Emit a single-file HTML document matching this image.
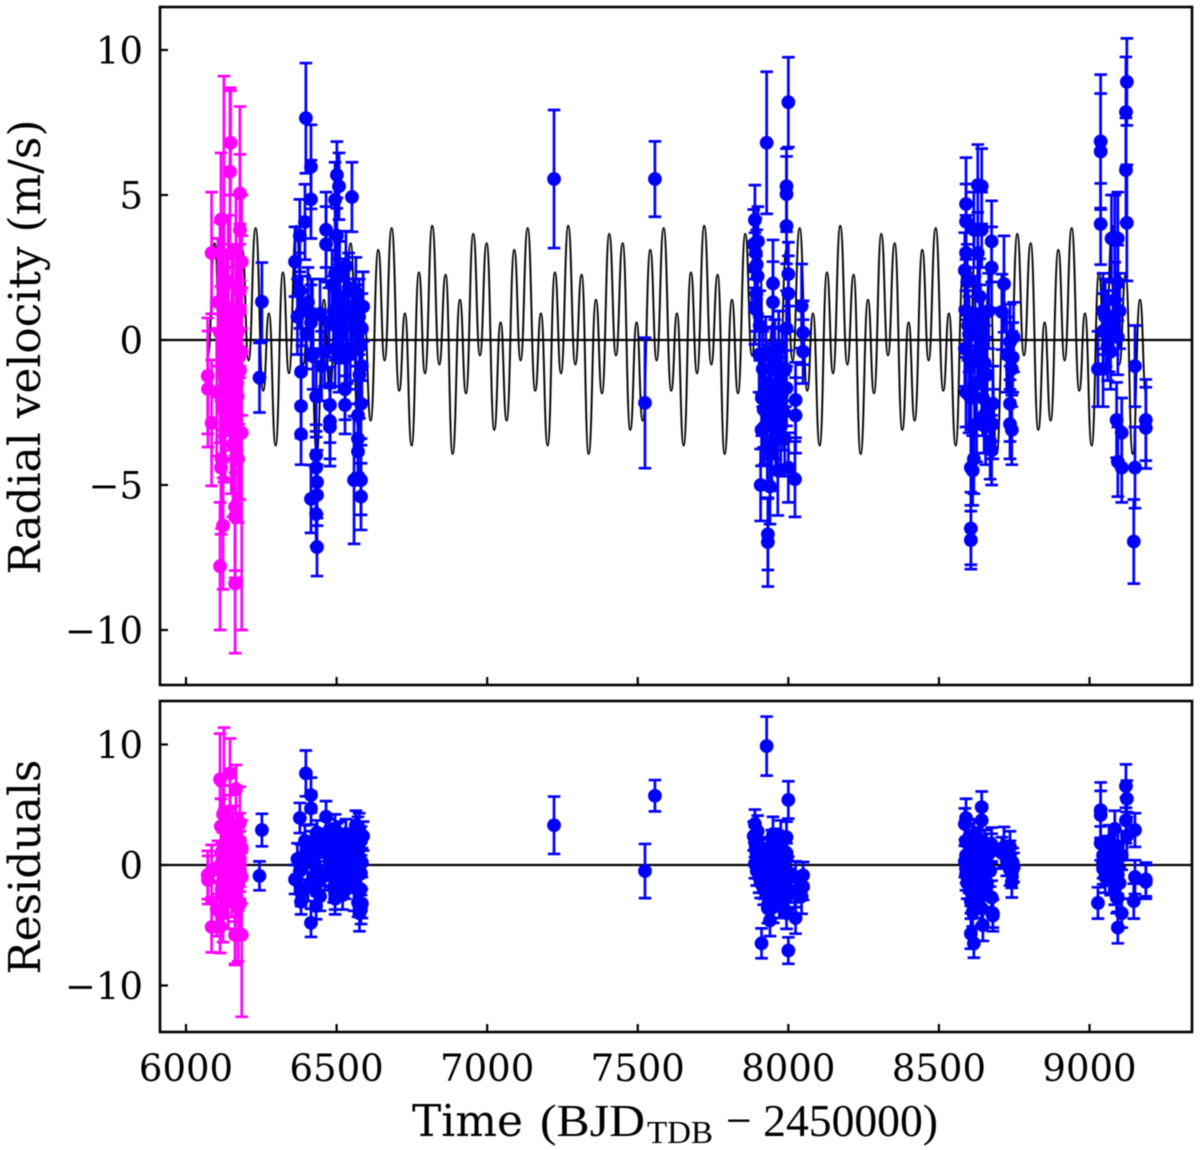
<!DOCTYPE html>
<html>
<head>
<meta charset="utf-8">
<title>Radial velocity and residuals</title>
<style>
html,body{margin:0;padding:0;background:#fff;width:1200px;height:1150px;overflow:hidden}
svg{display:block;filter:blur(0.5px)}
text{fill:#000}
.tick{font-family:"DejaVu Serif","Liberation Serif",serif;font-size:37px}
.label{font-family:"DejaVu Serif","Liberation Serif",serif;font-size:44px}
.math{font-family:"Liberation Serif","DejaVu Serif",serif;font-size:46px}
</style>
</head>
<body>
<svg id="chart" width="1200" height="1150" viewBox="0 0 1200 1150" xmlns="http://www.w3.org/2000/svg">
  <rect x="0" y="0" width="1200" height="1150" fill="#fff"/>
  <g id="top-marks"></g>
  <g id="bottom-marks"></g>
  <rect x="160" y="7" width="1032" height="678" fill="none" stroke="#000" stroke-width="2.6"/>
  <rect x="160" y="701" width="1032" height="331" fill="none" stroke="#000" stroke-width="2.6"/>
  <g id="axes-ticks"></g>
  <text class="label" transform="translate(40,347) rotate(-90)" text-anchor="middle" textLength="455" lengthAdjust="spacingAndGlyphs">Radial velocity (m/s)</text>
  <text class="label" transform="translate(40,867) rotate(-90)" text-anchor="middle" textLength="215" lengthAdjust="spacingAndGlyphs">Residuals</text>
  <g>
    <text class="label" x="412" y="1136" textLength="111" lengthAdjust="spacingAndGlyphs">Time</text>
    <text class="math" x="540" y="1136" textLength="105" lengthAdjust="spacingAndGlyphs">(BJD</text>
    <text class="math" x="647" y="1143" style="font-size:32px" textLength="66" lengthAdjust="spacingAndGlyphs">TDB</text>
    <text class="math" x="726" y="1136" textLength="212" lengthAdjust="spacingAndGlyphs">− 2450000)</text>
  </g>
</svg>
<script>
// Axis tick values
const xTicks = [6000, 6500, 7000, 7500, 8000, 8500, 9000];
const topYTicks = [-10, -5, 0, 5, 10];
const bottomYTicks = [-10, 0, 10];

// Orbital model: successive peaks and troughs
const modelTimes = [
6072.8,6094.9,6120.4,6141.4,6161.3,6186.8,6207.8,6231.1,6256.5,
6275.4,6297.5,6321.9,6341.8,6366.1,6389.4,6410.4,6433.7,6458,6477.9,6502.3,6524.4,6546.5,6572,6593,6612.9,6638.4,6659.4,6682.7,6708.1,
6727,6749.1,6773.5,6793.4,6817.7,6841,6862,6885.3,6909.6,6929.5,6953.9,6976,6998.1,7023.6,7044.6,7064.5,7090,7111,7134.3,7159.7,
7178.6,7200.7,7225.1,7245,7269.3,7292.6,7313.6,7336.9,7361.2,7381.1,7405.5,7427.6,7449.7,7475.2,7496.2,7516.1,7541.6,7562.6,7585.9,7611.3,
7630.2,7652.3,7676.7,7696.6,7720.9,7744.2,7765.2,7788.5,7812.8,7832.7,7857.1,7879.2,7901.3,7926.8,7947.8,7967.7,7993.2,8014.2,8037.5,8062.9,
8081.8,8103.9,8128.3,8148.2,8172.5,8195.8,8216.8,8240.1,8264.4,8284.3,8308.7,8330.8,8352.9,8378.4,8399.4,8419.3,8444.8,8465.8,8489.1,8514.5,
8533.4,8555.5,8579.9,8599.8,8624.1,8647.4,8668.4,8691.7,8716,8735.9,8760.3,8782.4,8804.5,8830,8851,8870.9,8896.4,8917.4,8940.7,8966.1,
8985,9007.1,9031.5,9051.4,9075.7,9099,9120,9143.3,9167.6,9187.5];
const modelValues = [
-0.54,3.34,-3.10,0.61,-2.78,3.11,-0.71,3.86,-1.75,
0.92,-3.64,2.33,-1.15,3.94,-0.85,2.25,-3.93,1.39,-1.84,3.66,-0.54,3.34,-3.10,0.61,-2.78,3.11,-0.71,3.86,-1.75,
0.92,-3.64,2.33,-1.15,3.94,-0.85,2.25,-3.93,1.39,-1.84,3.66,-0.54,3.34,-3.10,0.61,-2.78,3.11,-0.71,3.86,-1.75,
0.92,-3.64,2.33,-1.15,3.94,-0.85,2.25,-3.93,1.39,-1.84,3.66,-0.54,3.34,-3.10,0.61,-2.78,3.11,-0.71,3.86,-1.75,
0.92,-3.64,2.33,-1.15,3.94,-0.85,2.25,-3.93,1.39,-1.84,3.66,-0.54,3.34,-3.10,0.61,-2.78,3.11,-0.71,3.86,-1.75,
0.92,-3.64,2.33,-1.15,3.94,-0.85,2.25,-3.93,1.39,-1.84,3.66,-0.54,3.34,-3.10,0.61,-2.78,3.11,-0.71,3.86,-1.75,
0.92,-3.64,2.33,-1.15,3.94,-0.85,2.25,-3.93,1.39,-1.84,3.66,-0.54,3.34,-3.10,0.61,-2.78,3.11,-0.71,3.86,-1.75,
0.92,-3.64,2.33,-1.15,3.94,-0.85,2.25,-3.93,1.39,-1.84];

// Magenta instrument
const magentaTimes = [6072,6073,6085,6085,6113,6116,6123,6106,6135,6113,6146,6148,6179,6179,6185,6179,6173,6179,6179,6185,6163,6123,6179,6173,6118,6116,6156,6163,6163,6123,6126,6163,6185,6135,6146,6156,6102,6150,6140,6170,6166,6130,
6126,6132,6140,6152,6158,6168,6175,6120];
const magentaErrors = [2.0,2.0,2.1,2.17,2.2,2.3,2.4,2.2,2.3,3.8,2.9,1.8,3.0,2.6,2.3,2.3,2.3,2.3,2.2,2.2,2.5,2.4,2.3,2.2,2.4,2.3,2.5,2.2,2.1,2.2,7.0,2.4,6.8,2.3,2.3,2.3,2.2,2.3,2.3,2.3,2.0,2.3,
2.3,2.3,2.3,2.3,2.3,2.3,2.3,2.3];
const magentaRV = [-1.24,-1.69,3.0,-2.86,-7.8,4.15,1.8,1.3,0.8,0.25,5.8,6.8,5.05,3.8,2.7,1.7,0.3,1.0,-1.05,-0.4,-2.07,-2.35,-3.2,-4.1,-4.1,-4.4,-3.6,-5.75,-6.1,-6.4,2.1,-8.4,-3.2,-0.5,-1.5,0.5,-1.8,-3.0,2.0,-1.5,3.0,-2.5,
-1.0,0.2,-1.0,1.0,-1.8,0.9,-0.6,-0.8];
const magentaResiduals = [-0.83,-1.24,-5.15,-0.5,-5.1,3.2,4.2,-0.2,-1.0,7.1,7.6,1.0,3.5,-3.2,1.4,0.5,-1.5,-0.5,0.0,-1.0,-5.8,-4.0,2.0,-5.8,-2.0,1.0,2.4,0.8,-2.6,0.5,4.4,-5.8,-5.8,2.0,3.5,0.2,-3.7,-1.0,-3.0,1.8,6.3,1.5,
1.0,-1.0,0.5,-2.0,1.5,-2.0,0.8,-0.5];

// Blue instrument
const blueTimes = [6244,6252,
6362,6370,6378,6382,6382,6382,6378,6395,6398,6415,6415,6415,6422,6432,6432,6432,6435,6435,6415,6432,6435,6445,6465,6465,6478,6478,6478,6495,6501,6508,6495,6495,6501,6508,6495,6501,6508,6528,6528,6531,6531,6520,6551,6551,6564,6564,6571,6571,6571,6558,6581,6581,6581,6588,6584,6584,6575,6540,6545,6510,6490,6460,6450,
6385,6400,6405,6420,6475,6485,6515,6525,6535,6560,6570,6580,6576,
7222,7524,7557,
7889,7885,7889,7892,7895,7899,7889,7905,7911,7908,7928,7932,7932,7939,7945,7949,7949,7965,7994,7994,7994,8000,8000,8000,7994,8000,7994,8024,8024,8022,8044,8049,8049,7915,7925,7935,7940,7945,7955,7960,7970,7975,7980,7985,7990,7903,7918,7950,
7912,7920,7930,7942,7958,7968,7978,7988,7898,7894,
8586,8590,8590,8590,8590,8586,8590,8597,8600,8606,8606,8606,8606,8612,8616,8616,8620,8625,8629,8629,8635,8635,8642,8642,8642,8646,8646,8652,8660,8665,8670,8675,8675,8679,8675,8679,8716,8709,8725,8736,8742,8736,8736,8742,8745,8748,
8594,8600,8608,8618,8628,8638,8650,8655,
9037,9037,9037,9028,9045,9045,9045,9052,9060,9073,9084,9094,9094,9084,9094,9090,9107,9094,9107,9070,9065,9121,9124,9121,9124,9151,9151,9147,9187,9187,
9055,9078,9100];
const blueErrors = [1.2,1.35,
1.2,1.3,1.3,1.05,1.1,1.1,1.25,1.3,1.9,1.45,1.35,1.3,1.2,1.2,1.05,1.05,1.1,1.05,1.17,1.1,1.0,1.2,1.3,1.3,1.3,1.35,1.3,1.3,1.15,1.15,1.3,1.2,1.3,1.3,1.3,1.2,1.2,1.05,1.0,1.2,1.2,1.2,1.2,1.1,1.2,1.2,1.2,1.2,1.15,2.2,1.2,1.2,1.15,1.2,1.2,1.2,1.3,1.2,1.2,1.2,1.2,1.2,1.2,
1.2,1.2,1.2,1.2,1.2,1.2,1.2,1.2,1.2,1.2,1.2,1.2,1.5,
2.38,2.25,1.3,
1.2,1.2,1.2,1.2,1.2,1.2,1.25,1.2,1.24,1.24,2.45,1.23,1.53,1.3,1.3,1.5,1.4,1.55,1.3,1.3,1.3,1.55,1.1,1.3,1.3,1.2,1.3,1.3,1.3,1.3,1.45,1.1,1.1,1.3,1.3,1.3,1.3,1.4,1.4,1.4,1.4,1.3,1.4,1.3,1.3,1.3,1.3,1.3,
1.3,1.3,1.3,1.3,1.3,1.3,1.3,1.3,1.3,1.3,
1.3,1.6,1.3,1.3,1.3,1.3,1.2,1.2,1.3,1.25,1.0,1.3,1.2,1.2,1.2,1.3,1.3,1.3,1.4,1.4,1.3,1.2,1.3,1.3,1.3,1.3,1.3,1.3,1.3,1.3,1.3,1.4,1.4,1.3,1.2,1.2,1.66,1.3,1.3,1.3,1.3,1.3,1.2,1.2,1.2,1.2,
1.3,1.3,1.3,1.3,1.3,1.3,1.3,1.3,
2.3,2.0,1.4,1.3,1.3,1.3,1.3,1.3,1.2,1.5,1.5,1.6,1.3,1.3,1.3,1.3,1.2,1.2,1.2,1.3,1.3,1.8,1.5,1.9,2.0,1.4,1.4,1.45,1.4,1.4,
1.3,1.3,1.3];
const blueRV = [-1.3,1.32,
2.7,0.8,1.7,-3.25,-2.28,-1.1,3.6,4.07,7.65,5.97,4.85,0.6,-0.5,-1.95,-3.97,-4.4,-4.9,-5.35,-5.48,-6.0,-7.14,0.9,3.8,3.3,-2.24,-3.0,-2.8,4.83,5.69,5.3,2.3,0.5,3.6,1.5,-0.3,1.0,-0.6,-1.7,-2.24,2.55,0.9,0.4,4.93,0.8,1.65,0.3,-2.6,-3.4,-3.85,-4.83,-4.83,-2.2,-5.4,1.15,0.4,-0.9,0.8,1.8,-0.5,2.2,1.0,-0.4,-0.9,
1.0,0.2,1.3,0.9,0.6,1.9,0.4,1.2,-0.3,0.9,0.7,-0.2,-1.2,
5.55,-2.17,5.55,
4.14,3.3,2.5,3.0,2.6,3.4,1.1,0.5,-3.1,-5.0,6.8,-6.7,-6.97,-5.05,-3.9,1.95,1.3,-4.5,5.3,5.03,3.93,8.2,2.27,1.6,0.4,-4.4,-1.66,-2.07,-2.6,-4.8,1.17,0.25,-0.4,-1.0,-0.5,-1.5,-2.0,-1.0,-0.7,-2.2,-1.5,-3.0,-1.0,-2.5,-1.0,-0.5,-2.4,-2.8,
-2.0,-3.0,-3.6,-2.8,-3.3,-0.3,-1.9,-3.4,2.2,1.6,
2.4,4.69,4.08,3.0,1.0,-0.3,-1.8,0.5,-1.9,-6.5,-6.9,-4.4,-2.0,-4.5,-4.1,3.8,0.9,-2.9,5.34,3.0,1.5,-0.4,5.3,3.8,-1.5,0.2,-2.0,-0.8,-1.2,1.0,-3.5,3.4,2.5,-2.2,-3.8,-2.9,1.93,0.97,-0.5,-0.07,-1.0,-2.2,-2.9,-3.1,-0.6,0.1,
2.0,0.2,-0.8,-1.5,-0.6,0.6,-2.6,-3.0,
6.85,6.5,4.0,-1.0,-1.0,1.0,0.3,0.8,-0.2,3.5,3.5,3.5,1.97,1.38,0.1,-2.76,-3.2,-4.2,-4.4,-0.4,0.2,5.86,8.9,7.86,4.04,-0.9,-4.4,-6.95,-2.76,-3.03,
0.4,0.8,1.0];
const blueResiduals = [-0.9,2.9,
-1.2,0.5,-0.5,-3.05,-2.3,0.6,3.9,2.0,7.6,5.8,4.7,1.5,-1.0,-0.2,-2.2,0.9,1.8,-1.5,-4.8,-3.4,2.7,-2.6,4.0,1.2,-0.5,0.5,1.9,-1.5,2.3,0.0,-2.4,3.0,-1.0,1.0,-2.8,1.5,-0.5,0.8,-1.8,2.6,-0.2,-2.5,1.4,-1.2,3.3,0.4,-3.1,2.8,1.0,-1.6,-3.7,2.0,-0.7,2.4,-3.2,0.2,3.0,-0.8,1.2,2.4,-1.9,-0.9,1.8,
-0.3,1.0,-1.8,0.5,2.6,-0.5,0.8,-1.2,1.5,-0.4,1.9,-2.0,-4.0,
3.3,-0.5,5.75,
3.4,2.4,0.1,1.5,-0.5,0.8,1.9,0.6,-6.5,-1.5,9.87,-3.6,-3.3,-4.6,-1.0,2.5,0.5,-2.0,2.3,-4.0,1.0,5.4,-7.1,-0.6,-1.8,-2.5,0.5,-4.4,-1.0,-2.2,-2.6,-0.85,-1.8,1.0,-0.3,-2.3,0.2,1.5,-1.2,0.3,-3.0,2.4,-0.8,1.2,-2.8,-1.0,-2.0,-3.5,
0.3,-1.5,0.8,-0.5,1.7,-1.8,0.0,-1.0,2.8,1.0,
3.4,3.9,1.9,0.8,-0.8,0.3,-0.3,2.2,-1.0,-5.7,-3.0,1.0,-2.2,-3.9,-6.5,2.5,-1.2,-3.1,0.6,-2.0,1.0,-0.5,4.8,3.7,-3.6,-5.0,0.5,1.6,-1.5,0.9,-0.5,1.7,-2.7,-4.2,1.4,-4.0,1.5,1.0,0.4,-0.4,-1.4,1.5,0.8,-0.7,0.2,-0.2,
-1.5,1.0,0.0,-2.6,1.8,-1.0,-2.2,0.2,
4.55,4.15,1.8,-3.15,0.8,-0.3,0.2,-1.0,1.2,0.0,3.0,-0.8,1.5,-2.0,-5.2,-2.7,-4.0,-2.7,0.8,-1.2,2.0,6.55,5.5,3.7,2.4,2.9,-1.0,-3.0,-1.4,-1.2,
-0.4,0.7,-1.5];

// Axis functions
function xScale(t) { return 186 + (t - 6000) * 0.30117; }
function yTop(v) { return 340 - v * 29; }
function yBottom(v) { return 865 - v * 12.05; }

const NS = 'http://www.w3.org/2000/svg';
const topLayer = document.getElementById('top-marks');
const bottomLayer = document.getElementById('bottom-marks');
const tickLayer = document.getElementById('axes-ticks');

function make(tag, parent, props) {
  const el = document.createElementNS(NS, tag);
  for (const k in props) el.setAttribute(k, props[k]);
  parent.appendChild(el);
  return el;
}

function drawZeroLine(layer, y) {
  const zero = make('line', layer, {x1: 160, x2: 1192, y1: y, y2: y, stroke: '#000', 'stroke-width': 2.3});
  
  
}

function drawModel() {
  let d = 'M' + xScale(modelTimes[0]).toFixed(2) + ' ' + yTop(modelValues[0]).toFixed(2);
  for (let i = 1; i < modelTimes.length; i++) {
    const x0 = xScale(modelTimes[i - 1]);
    const x1 = xScale(modelTimes[i]);
    const mid = (x0 + x1) / 2;
    const y0 = yTop(modelValues[i - 1]);
    const y1 = yTop(modelValues[i]);
    d += 'C' + mid.toFixed(2) + ' ' + y0.toFixed(2) + ' ' + mid.toFixed(2) + ' ' + y1.toFixed(2) + ' ' + x1.toFixed(2) + ' ' + y1.toFixed(2);
  }
  const curve = make('path', topLayer, {d: d, fill: 'none', stroke: '#000', 'stroke-width': 1.9});
  
  
}

function drawSeries(layer, times, errors, values, yFn, color, label) {
  const group = make('g', layer, {stroke: color, fill: color});
  
  
  for (let i = 0; i < times.length; i++) {
    const x = xScale(times[i]);
    const hi = yFn(values[i] + errors[i]);
    const lo = yFn(values[i] - errors[i]);
    const bar = make('path', group, {
      d: 'M' + x + ' ' + hi + 'V' + lo + 'M' + (x - 6.3) + ' ' + hi + 'H' + (x + 6.3) + 'M' + (x - 6.3) + ' ' + lo + 'H' + (x + 6.3),
      fill: 'none', 'stroke-width': 2.7
    });
    
    
  }
  for (let i = 0; i < times.length; i++) {
    const dot = make('circle', group, {cx: xScale(times[i]), cy: yFn(values[i]), r: 6.9, stroke: 'none'});
    
    
  }
}

function drawTicks() {
  xTicks.forEach(function (t) {
    const x = xScale(t);
    const t1 = make('line', tickLayer, {x1: x, x2: x, y1: 685, y2: 677, stroke: '#000', 'stroke-width': 2.2});
    
    
    const t2 = make('line', tickLayer, {x1: x, x2: x, y1: 1032, y2: 1024, stroke: '#000', 'stroke-width': 2.2});
    
    
    const lab = make('text', tickLayer, {x: x, y: 1081, 'text-anchor': 'middle', class: 'tick'});
    lab.textContent = String(t);
    
    
  });
  topYTicks.forEach(function (v) {
    const y = yTop(v);
    const tick = make('line', tickLayer, {x1: 160, x2: 168, y1: y, y2: y, stroke: '#000', 'stroke-width': 2.2});
    
    
    const lab = make('text', tickLayer, {x: 143, y: y + 13.5, 'text-anchor': 'end', class: 'tick'});
    lab.textContent = v < 0 ? '\u2212' + Math.abs(v) : String(v);
    
    
  });
  bottomYTicks.forEach(function (v) {
    const y = yBottom(v);
    const tick = make('line', tickLayer, {x1: 160, x2: 168, y1: y, y2: y, stroke: '#000', 'stroke-width': 2.2});
    
    
    const lab = make('text', tickLayer, {x: 143, y: y + 13.5, 'text-anchor': 'end', class: 'tick'});
    lab.textContent = v < 0 ? '\u2212' + Math.abs(v) : String(v);
    
    
  });
}

drawModel();
drawZeroLine(topLayer, yTop(0));
drawSeries(topLayer, blueTimes, blueErrors, blueRV, yTop, '#0000ff', 'blue-rv');
drawSeries(topLayer, magentaTimes, magentaErrors, magentaRV, yTop, '#ff00ff', 'magenta-rv');
drawZeroLine(bottomLayer, yBottom(0));
drawSeries(bottomLayer, blueTimes, blueErrors, blueResiduals, yBottom, '#0000ff', 'blue-residual');
drawSeries(bottomLayer, magentaTimes, magentaErrors, magentaResiduals, yBottom, '#ff00ff', 'magenta-residual');
drawTicks();
</script>
</body>
</html>
